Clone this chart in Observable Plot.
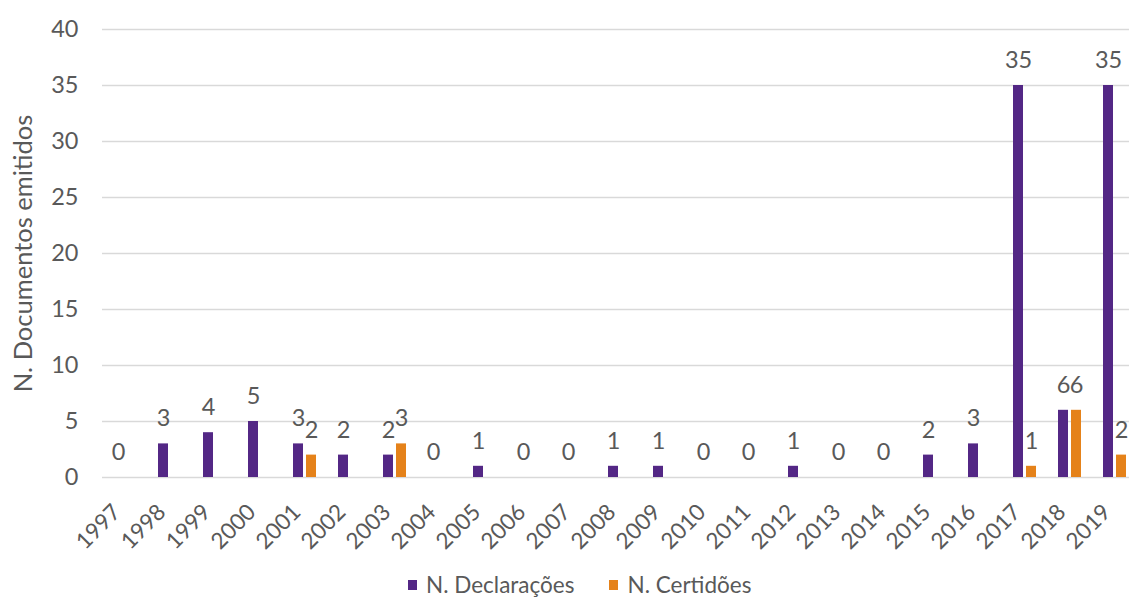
<!DOCTYPE html>
<html>
<head>
<meta charset="utf-8">
<script src="https://cdn.jsdelivr.net/npm/d3@7"></script>
<script src="https://cdn.jsdelivr.net/npm/@observablehq/plot@0.6"></script>
<style>
  html, body { margin: 0; padding: 0; background: #fff; overflow: hidden; }
  #chart svg { overflow: hidden; display: block; }
  .legend { display: flex; align-items: center; height: 29px; padding-left: 408px;
            font-family: Lato, sans-serif; font-size: 22.5px; color: #595959; }
  .legend .item { display: flex; align-items: center; margin-right: 35px; }
  .legend .sw { width: 9px; height: 10px; margin-right: 9px; }
</style>
</head>
<body>
<div id="chart"></div>
<div class="legend">
  <div class="item"><div class="sw" style="background:#532785"></div><span>N. Declarações</span></div>
  <div class="item"><div class="sw" style="background:#E5821A"></div><span>N. Certidões</span></div>
</div>
<script>
const years = ["1997","1998","1999","2000","2001","2002","2003","2004","2005","2006","2007","2008","2009","2010","2011","2012","2013","2014","2015","2016","2017","2018","2019"];
const declaracoes = [0,3,4,5,3,2,2,0,1,0,0,1,1,0,0,1,0,0,2,3,35,6,35];
const certidoesYears = ["2001","2003","2017","2018","2019"];
const certidoesValues = [2,3,1,6,2];
const seriesNames = ["N. Declarações","N. Certidões"];
const seriesColors = ["#532785","#E5821A"];
const yTicks = [0,5,10,15,20,25,30,35,40];

const data = [
  ...years.map((y, i) => ({year: y, series: seriesNames[0], value: declaracoes[i]})),
  ...certidoesYears.map((y, i) => ({year: y, series: seriesNames[1], value: certidoesValues[i]}))
];

const font = "Lato, sans-serif";
const fs = 23.5;
const plot = Plot.plot({
  width: 1129,
  height: 570,
  marginLeft: 96,
  marginRight: -14,
  marginTop: 29,
  marginBottom: 93,
  style: {fontFamily: font, fontSize: fs + "px", color: "#595959", background: "#fff", overflow: "hidden"},
  fx: {domain: years, padding: 0, label: null, axis: null},
  x: {domain: seriesNames, paddingInner: 0.25, paddingOuter: 0.752, axis: null},
  y: {domain: [0, 40], label: null},
  color: {domain: seriesNames, range: seriesColors},
  marks: [
    Plot.ruleY(yTicks, {stroke: "#d9d9d9", strokeWidth: 1.4}),
    Plot.axisY({ticks: yTicks, tickSize: 0, tickPadding: 24, label: null, fontSize: fs, fill: "#595959"}),
    Plot.axisY({ticks: [], tickSize: 0, label: "N. Documentos emitidos", labelArrow: "none",
                labelAnchor: "center", labelOffset: 89, fontSize: 25.5, fill: "#595959"}),
    Plot.axisFx({anchor: "bottom", tickRotate: -45, tickSize: 0, tickPadding: 21, dx: -8, dy: 10, label: null, fontSize: 22.5, fill: "#595959"}),
    Plot.barY(data, {fx: "year", x: "series", y: "value", fill: "series"}),
    Plot.text(data, {fx: "year", x: "series", y: "value", text: d => String(d.value), dy: -25,
                     fill: "#595959", fontSize: fs})
  ]
});
document.getElementById("chart").appendChild(plot);
</script>
</body>
</html>
